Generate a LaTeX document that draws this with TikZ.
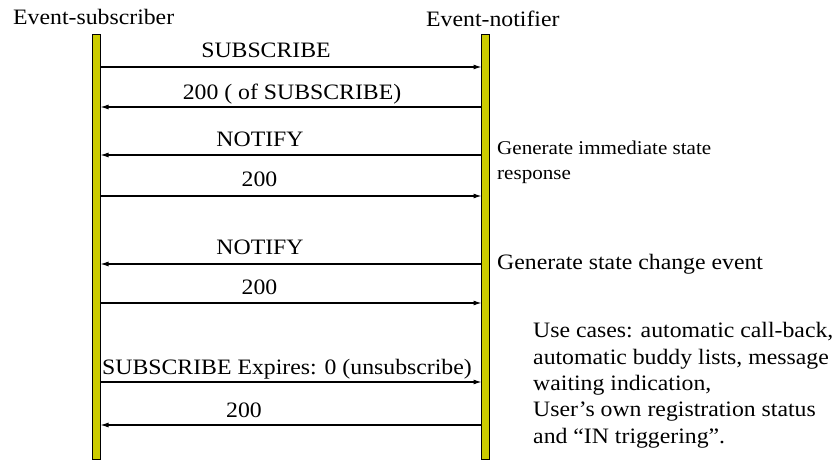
\documentclass[tikz,border=0pt]{standalone}
\usepackage{fontspec}
\setmainfont{Liberation Serif}[FakeStretch=1.08]
\usepackage{tikz}
\usetikzlibrary{arrows.meta}
\definecolor{barfill}{RGB}{204,204,0}
\tikzset{
  lifeline/.style={draw=black, fill=barfill, line width=0.8pt, minimum width=8pt, minimum height=425pt, inner sep=0pt},
  msg/.style={line width=1.1pt, -{Latex[length=8pt,width=5pt]}},
  lbl/.style={font=\fontsize{22}{26.3}\selectfont, anchor=base, inner sep=0pt},
  note/.style={font=\fontsize{22}{26.3}\selectfont, anchor=base west, inner sep=0pt, align=left},
  smallnote/.style={font=\fontsize{19.5}{25}\selectfont, anchor=base west, inner sep=0pt, align=left}
}
\begin{document}
\begin{tikzpicture}[x=1pt,y=-1pt]
\useasboundingbox[fill=white] (0,0) rectangle (838,462);
% lifelines
\node[lifeline] (sub) at (96.5,246.5) {};
\node[lifeline] (notif) at (485.5,246.5) {};
\node[lbl, anchor=base west] (subname) at (13,25) {Event-subscriber};
\node[lbl, anchor=base west] (notifname) at (426,27) {Event-notifier};
% message ends
\coordinate (s1) at (100.5,67);  \coordinate (n1) at (481.5,67);
\coordinate (s2) at (100.5,107); \coordinate (n2) at (481.5,107);
\coordinate (s3) at (100.5,155); \coordinate (n3) at (481.5,155);
\coordinate (s4) at (100.5,196); \coordinate (n4) at (481.5,196);
\coordinate (s5) at (100.5,264); \coordinate (n5) at (481.5,264);
\coordinate (s6) at (100.5,303); \coordinate (n6) at (481.5,303);
\coordinate (s7) at (100.5,382); \coordinate (n7) at (481.5,382);
\coordinate (s8) at (100.5,425); \coordinate (n8) at (481.5,425);
% messages
\draw[msg] (s1) -- (n1);
\node[lbl] (m1) at (266,58) {SUBSCRIBE};
\draw[msg] (n2) -- (s2);
\node[lbl] (m2) at (292,100) {200 ( of SUBSCRIBE)};
\draw[msg] (n3) -- (s3);
\node[lbl] (m3) at (260,147) {NOTIFY};
\draw[msg] (s4) -- (n4);
\node[lbl] (m4) at (259.5,187) {200};
\draw[msg] (n5) -- (s5);
\node[lbl] (m5) at (260,255) {NOTIFY};
\draw[msg] (s6) -- (n6);
\node[lbl] (m6) at (259.5,295) {200};
\draw[msg] (s7) -- (n7);
\node[lbl] (m7) at (287,374) {SUBSCRIBE Expires: 0 (unsubscribe)};
\draw[msg] (n8) -- (s8);
\node[lbl] (m8) at (244,417) {200};
% notes (base = last line)
\node[smallnote] (immediate) at (497,180) {Generate immediate state\\response};
\node[note] (change) at (497,270) {Generate state change event};
\node[note] (usecases) at (533,443) {Use cases: automatic call-back,\\automatic buddy lists, message\\waiting indication,\\User’s own registration status\\and “IN triggering”.};
\end{tikzpicture}
\end{document}
